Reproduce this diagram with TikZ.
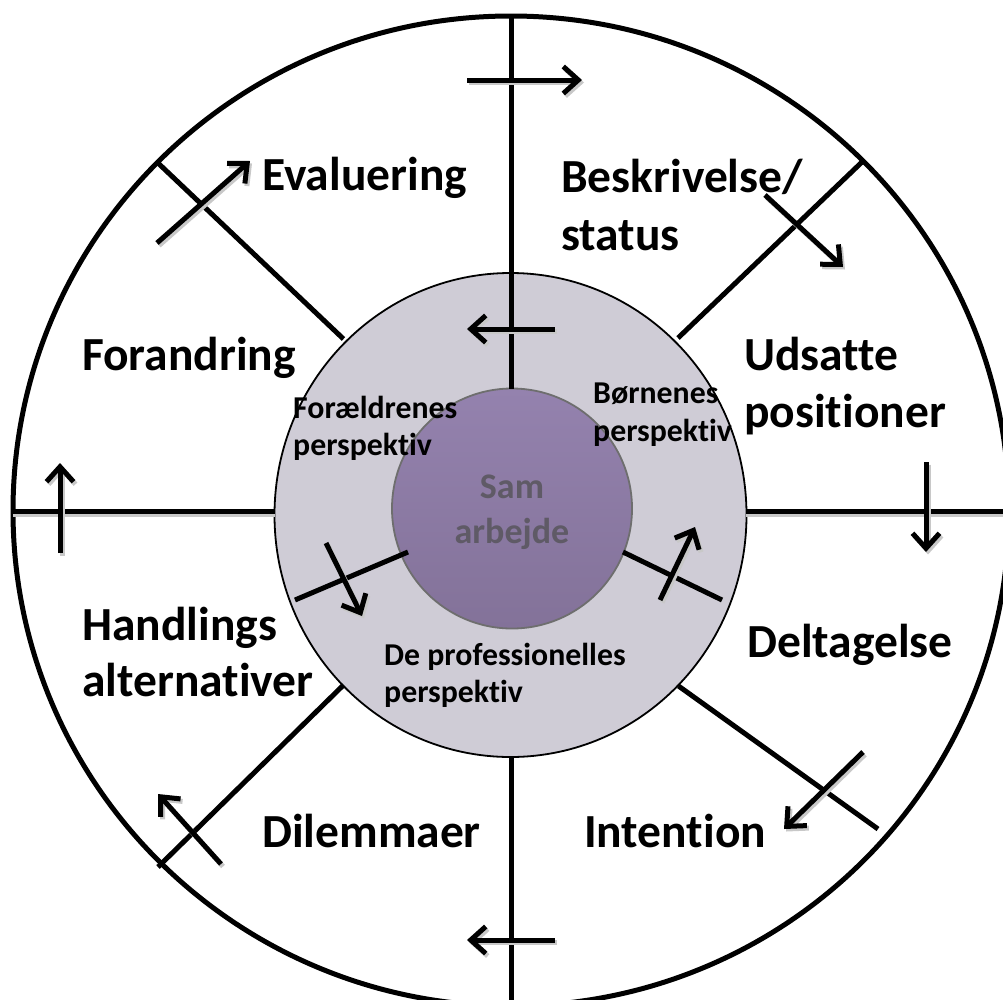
\documentclass[tikz,border=0pt]{standalone}
\usepackage{fontspec}
\setmainfont{Carlito}[Ligatures=NoCommon]
\usetikzlibrary{arrows.meta}
\definecolor{midgray}{RGB}{207,204,214}
\definecolor{purptop}{RGB}{148,130,174}
\definecolor{purpbot}{RGB}{131,114,153}
\definecolor{innerborder}{RGB}{110,110,110}
\definecolor{centertext}{RGB}{95,90,102}
\definecolor{shadowgray}{RGB}{200,200,200}
\begin{document}
\begin{tikzpicture}[x=1pt,y=-1pt,
  mainline/.style={line width=5pt},
  arrowline/.style={line width=5pt,-{Straight Barb[length=15pt,width=27pt,line width=5pt]}},
  shadowline/.style={line width=5pt,draw=shadowgray,-{Straight Barb[length=15pt,width=27pt,line width=5pt]}},
  biglabel/.style={anchor=base west,inner sep=0pt,font=\fontsize{47.5}{58}\selectfont\bfseries},
  smalllabel/.style={anchor=base west,inner sep=0pt,font=\fontsize{31.8}{38}\selectfont\bfseries},
  centerlabel/.style={anchor=base,inner sep=0pt,text=centertext,font=\fontsize{36}{44}\selectfont\bfseries}]
\useasboundingbox (0,0) rectangle (1003,999);
\clip (0,0) rectangle (1003,999);
\fill[white] (0,0) rectangle (1003,999);
% circles
\draw[line width=5pt,fill=white] (511,511) ellipse [x radius=498, y radius=495];
\coordinate (c) at (511,511);
\draw[line width=1.8pt,fill=midgray] (510.5,515) ellipse [x radius=236, y radius=242];
\shade[top color=purptop,bottom color=purpbot,draw=innerborder,line width=1.8pt] (512,508.5) circle [radius=120];
% shadows of horizontal lines
\draw[mainline,draw=shadowgray] (13,514) -- (275,514);
\draw[mainline,draw=shadowgray] (746,514) -- (1010,514);
% dividing lines
\draw[mainline] (511,16) -- (511,389);
\draw[mainline] (511,757) -- (511,1010);
\draw[mainline] (13,511) -- (275,511);
\draw[mainline] (746,511) -- (1010,511);
\draw[mainline] (862,162) -- (678,338);
\draw[mainline] (158,163) -- (343.5,339);
\draw[mainline] (158,867) -- (343.5,685);
\draw[mainline] (678.5,686) -- (878,829);
\draw[mainline] (295,600) -- (408,552);
\draw[mainline] (623,552) -- (722,600);
% arrows with shadows
\foreach \ax/\ay/\bx/\by in {467/80/582/80, 765/195/843/267, 926/462/926/552, 863/752/784/829,
  555/940/467/940, 221/864/158/794, 60/553/60/463, 157/243/250/161,
  555/329/467/329, 326/543/362/616, 660/600/695/527}{
  \draw[shadowline] (\ax+2,\ay+2.5) -- (\bx+2,\by+2.5);
  \draw[arrowline] (\ax,\ay) -- (\bx,\by);
}
% outer labels
\node[biglabel] (eval) at (262,190) {Evaluering};
\node[biglabel] (besk1) at (561,192) {Beskrivelse/};
\node[biglabel] (besk2) at (561,250) {status};
\node[biglabel] (uds1) at (744,370) {Udsatte};
\node[biglabel] (uds2) at (744,427) {positioner};
\node[biglabel] (forand) at (82,370) {Forandring};
\node[biglabel] (delt) at (747,657) {Deltagelse};
\node[biglabel] (handl1) at (82,640) {Handlings};
\node[biglabel] (handl2) at (82,696) {alternativer};
\node[biglabel] (dil) at (262,847) {Dilemmaer};
\node[biglabel] (int) at (584,847) {Intention};
% middle labels
\node[smalllabel] (for1) at (293,418) {Forældrenes};
\node[smalllabel] (for2) at (293,455) {perspektiv};
\node[smalllabel] (born1) at (593,403) {Børnenes};
\node[smalllabel] (born2) at (593,441) {perspektiv};
\node[smalllabel] (prof1) at (384,665) {De professionelles};
\node[smalllabel] (prof2) at (384,702) {perspektiv};
% center
\node[centerlabel] (sam1) at (512,498) {Sam};
\node[centerlabel] (sam2) at (512,543) {arbejde};
\end{tikzpicture}
\end{document}
